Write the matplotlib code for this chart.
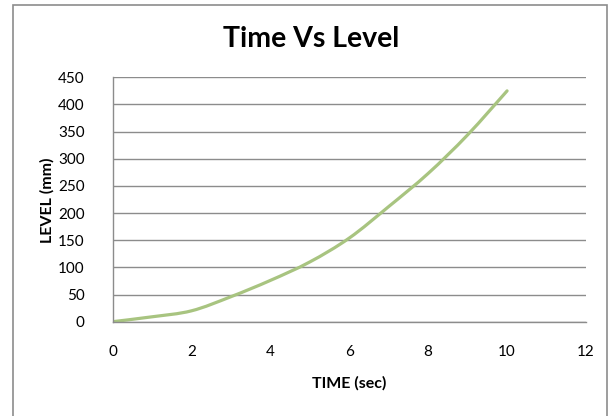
import matplotlib
matplotlib.use("Agg")
import matplotlib.pyplot as plt
from matplotlib.path import Path
from matplotlib.patches import PathPatch, Rectangle

time_sec = [0, 1, 2, 3, 4, 5, 6, 7, 8, 9, 10]
level_mm = [0, 9, 20, 46, 76, 110, 154, 212, 273, 344, 425]

x_ticks = [0, 2, 4, 6, 8, 10, 12]
y_ticks = [0, 50, 100, 150, 200, 250, 300, 350, 400, 450]

LINE_COLOR = "#a8c480"
GRID_COLOR = "#8c8c8c"
FONT = "Lato"


def smooth_path(xs, ys):
    # Catmull-Rom style smoothing drawn as cubic Bezier segments
    pts = list(zip(xs, ys))
    verts = [pts[0]]
    codes = [Path.MOVETO]
    n = len(pts)
    for i in range(n - 1):
        p0 = pts[max(i - 1, 0)]
        p1 = pts[i]
        p2 = pts[i + 1]
        p3 = pts[min(i + 2, n - 1)]
        c1 = (p1[0] + (p2[0] - p0[0]) / 6, p1[1] + (p2[1] - p0[1]) / 6)
        c2 = (p2[0] - (p3[0] - p1[0]) / 6, p2[1] - (p3[1] - p1[1]) / 6)
        verts += [c1, c2, p2]
        codes += [Path.CURVE4] * 3
    return Path(verts, codes)


fig = plt.figure(figsize=(6.16, 4.16), dpi=100)
fig.patch.set_facecolor("white")

# chart area border
fig.add_artist(Rectangle((13 / 616, -0.05), 594 / 616, 1 - 5 / 416 + 0.05,
                         transform=fig.transFigure, fill=False,
                         edgecolor=GRID_COLOR, linewidth=1.2))

ax = fig.add_axes([112.5 / 616, 1 - 321.7 / 416, (586 - 112.5) / 616, (321.7 - 77.3) / 416])
ax.set_xlim(0, 12)
ax.set_ylim(0, 450)
ax.set_xticks(x_ticks)
ax.set_yticks(y_ticks)
ax.grid(axis="y", color=GRID_COLOR, linewidth=1.0)
ax.set_axisbelow(True)
for side in ["top", "right"]:
    ax.spines[side].set_visible(False)
for side in ["left", "bottom"]:
    ax.spines[side].set_color(GRID_COLOR)
    ax.spines[side].set_linewidth(1.0)
ax.tick_params(length=0, labelsize=11)
ax.tick_params(axis="y", pad=20)
ax.tick_params(axis="x", pad=17)
for lab in ax.get_xticklabels() + ax.get_yticklabels():
    lab.set_fontfamily(FONT)

ax.add_patch(PathPatch(smooth_path(time_sec, level_mm), fill=False,
                       edgecolor=LINE_COLOR, linewidth=2.3, capstyle="round"))

fig.text(311 / 616, 1 - 39 / 416, "Time Vs Level", ha="center", va="center",
         fontsize=20.5, fontweight="bold", family=FONT)
fig.text(349 / 616, 1 - 383 / 416, "TIME (sec)", ha="center", va="center",
         fontsize=11.5, fontweight="bold", family=FONT)
fig.text(47 / 616, 1 - 200 / 416, "LEVEL (mm)", ha="center", va="center",
         rotation=90, fontsize=11.5, fontweight="bold", family=FONT)

fig.savefig("out.png", dpi=100)
